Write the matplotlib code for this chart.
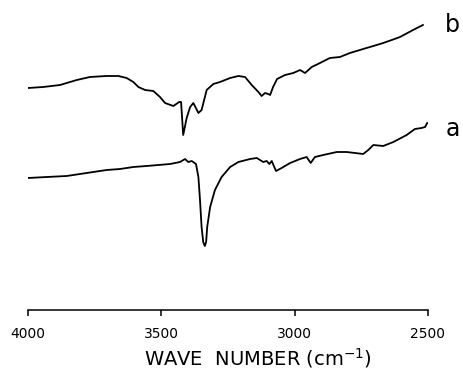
import numpy as np
import matplotlib.pyplot as plt

# IR spectra, values (arb. transmittance units)
wn_b = [4000, 3943, 3880, 3817, 3768, 3705, 3661, 3630, 3605, 3586, 3561, 3530,
        3505, 3486, 3455, 3433, 3426, 3418, 3405, 3392, 3380, 3361, 3349, 3330,
        3305, 3280, 3242, 3211, 3186, 3161, 3136, 3124, 3111, 3099, 3092, 3081,
        3066, 3036, 3005, 2980, 2961, 2936, 2905, 2868, 2830, 2793, 2743, 2705,
        2668, 2636, 2605, 2556, 2519]
tr_b = [222, 223, 225, 230, 233, 234, 234, 232, 228, 223, 220, 219,
        213, 207, 204, 208, 208, 175, 192, 203, 207, 197, 200, 220,
        226, 228, 232, 234, 233, 225, 218, 214, 217, 216, 215, 223,
        231, 235, 237, 240, 237, 243, 247, 252, 253, 257, 261, 264,
        267, 270, 273, 280, 285]

wn_a = [4000, 3930, 3855, 3780, 3705, 3655, 3605, 3555, 3467, 3430, 3411, 3399,
        3386, 3370, 3361, 3355, 3349, 3343, 3337, 3332, 3328, 3317, 3299, 3274,
        3242, 3211, 3167, 3142, 3118, 3105, 3095, 3086, 3070, 3049, 3030, 3017,
        2980, 2955, 2940, 2924, 2893, 2842, 2805, 2774, 2743, 2724, 2705, 2668,
        2630, 2580, 2549, 2524, 2511, 2503]
tr_a = [132, 133, 134, 137, 140, 141, 143, 144, 146, 148, 151, 148,
        149, 146, 133, 110, 83, 68, 64, 68, 83, 103, 120, 133,
        143, 148, 151, 152, 148, 149, 146, 149, 139, 142, 145, 147,
        151, 153, 147, 153, 155, 158, 158, 157, 156, 160, 165, 164,
        168, 175, 181, 182, 183, 187]

fig = plt.figure(figsize=(4.64, 3.69), dpi=100)
ax = fig.add_axes([28 / 464, 59 / 369, 400 / 464, 310 / 369])

ax.plot(wn_b, tr_b, color="black", lw=1.3, solid_joinstyle="round")
ax.plot(wn_a, tr_a, color="black", lw=1.3, solid_joinstyle="round")

ax.set_xlim(4000, 2500)
ax.set_ylim(0, 310)
ax.set_xticks([4000, 3500, 3000, 2500])
ax.set_yticks([])
for s in ["left", "right", "top"]:
    ax.spines[s].set_visible(False)
ax.spines["bottom"].set_linewidth(1.1)
ax.tick_params(axis="x", direction="out", length=4, width=1.1, labelsize=10, pad=8)

fig.text(258 / 464, 1 - 358 / 369, "WAVE  NUMBER (cm$^{-1}$)", fontsize=14,
         ha="center", va="center")
fig.text(452 / 464, 1 - 25 / 369, "b", fontsize=17, ha="center", va="center")
fig.text(453 / 464, 1 - 129 / 369, "a", fontsize=17, ha="center", va="center")

fig.savefig("out.png", dpi=100)
plt.close(fig)
